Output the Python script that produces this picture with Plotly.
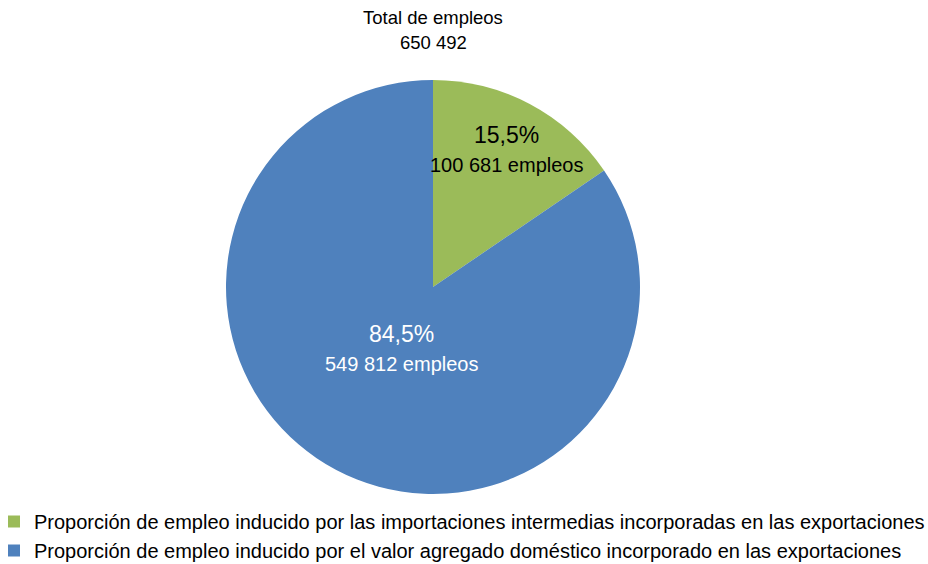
import math
import plotly.graph_objects as go

# Employment induced by exports, split by origin of value added
categories = [
    "Proporción de empleo inducido por las importaciones intermedias incorporadas en las exportaciones",
    "Proporción de empleo inducido por el valor agregado doméstico incorporado en las exportaciones",
]
employees = [100681, 549812]
colors = ["#9BBB59", "#4F81BD"]
label_colors = ["#000000", "#FFFFFF"]
title_lines = ["Total de empleos", "650 492"]

W, H = 928, 564
FONT = "Liberation Sans, Arial, sans-serif"

# Pie placement (pixels): centre and radius
CX, CY, R = 433, 287, 207
# Radial position of each slice label, as a fraction of the radius
LABEL_RADIUS = [0.76, 0.33]


def fmt_int(v):
    return f"{v:,}".replace(",", " ")


def fmt_pct(p):
    return f"{p:.1f}".replace(".", ",") + "%"


fig = go.Figure(
    go.Pie(
        labels=categories,
        values=employees,
        sort=False,
        direction="clockwise",
        rotation=0,
        marker=dict(colors=colors, line=dict(width=0)),
        textinfo="none",
        hoverinfo="label+value+percent",
        domain=dict(x=[(CX - R) / W, (CX + R) / W], y=[(H - CY - R) / H, (H - CY + R) / H]),
    )
)

# Slice labels placed along each slice's mid-angle
total = sum(employees)
start = 0.0
for val, col, rf in zip(employees, label_colors, LABEL_RADIUS):
    share = val / total
    mid = (start + share / 2) * 2 * math.pi
    start += share
    px = CX + rf * R * math.sin(mid)
    py = CY - rf * R * math.cos(mid)
    for text, size, dy in [(fmt_pct(share * 100), 23, -13), (fmt_int(val) + " empleos", 20, 17)]:
        fig.add_annotation(
            text=text,
            x=px / W,
            y=1 - (py + dy) / H,
            xref="paper",
            yref="paper",
            xanchor="center",
            yanchor="middle",
            showarrow=False,
            font=dict(family=FONT, size=size, color=col),
        )

# Two-line heading above the pie
for text, ypix in zip(title_lines, [17, 42]):
    fig.add_annotation(
        text=text,
        x=CX / W,
        y=1 - ypix / H,
        xref="paper",
        yref="paper",
        xanchor="center",
        yanchor="middle",
        showarrow=False,
        font=dict(family=FONT, size=18.5, color="#000000"),
    )

fig.update_layout(
    width=W,
    height=H,
    margin=dict(l=0, r=0, t=0, b=0, autoexpand=False),
    paper_bgcolor="white",
    plot_bgcolor="white",
    font=dict(family=FONT, size=20, color="#000000"),
    legend=dict(
        orientation="v",
        x=-6 / W,
        xanchor="left",
        y=-6 / H,
        yanchor="bottom",
        font=dict(family=FONT, size=20, color="#000000"),
        itemwidth=30,
        tracegroupgap=0,
        bgcolor="rgba(0,0,0,0)",
    ),
    showlegend=True,
)

fig.write_html("out.html")
